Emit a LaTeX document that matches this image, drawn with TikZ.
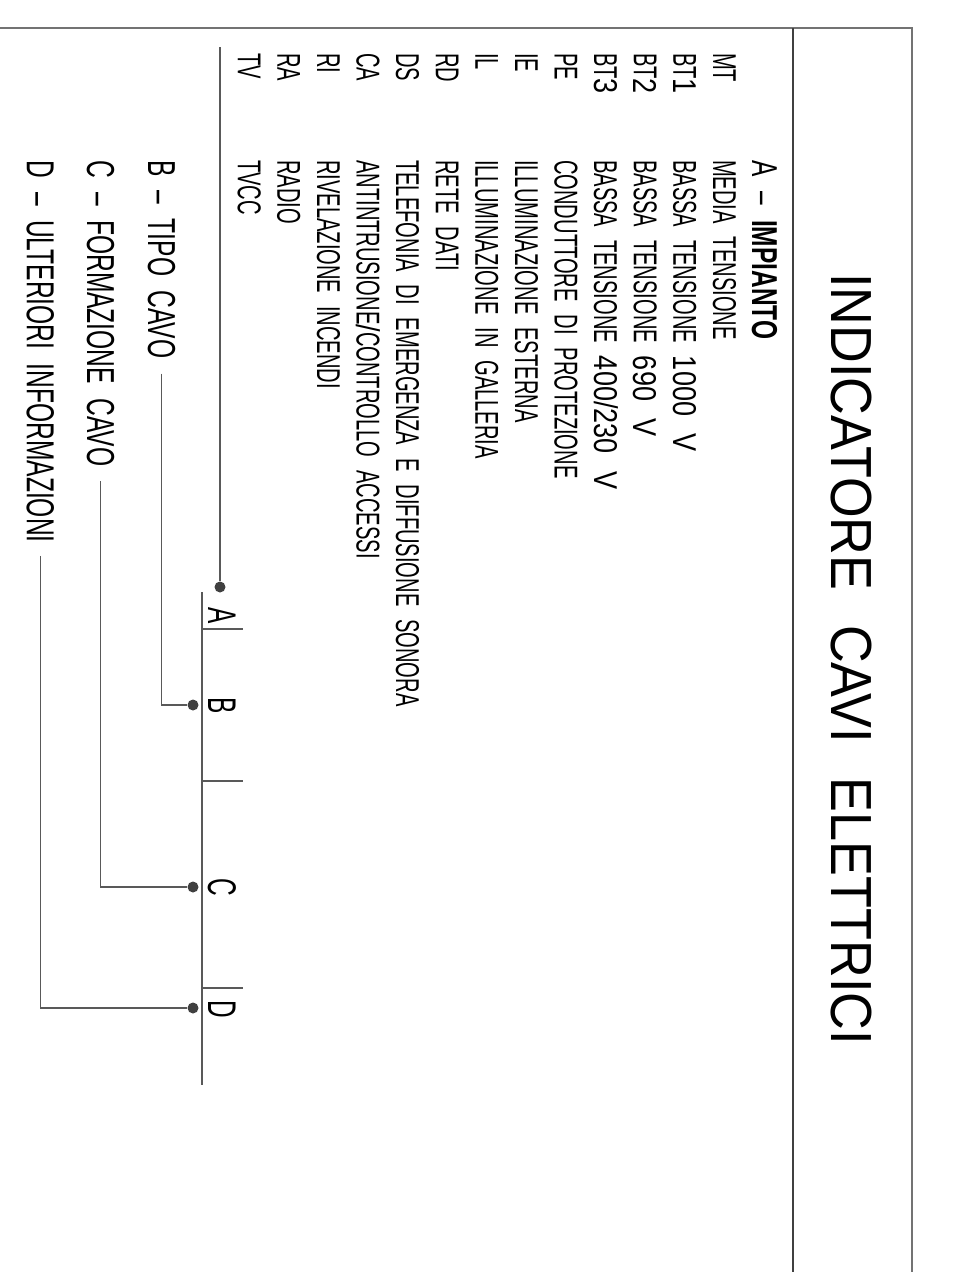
\documentclass[tikz,border=0pt]{standalone}
\usepackage{fontspec}
\setmainfont{Liberation Sans}
\newfontfamily\cadfont[FakeStretch=0.61,WordSpace=2.3]{Liberation Sans}
\newfontfamily\cifre[FakeStretch=0.82,WordSpace=2.3]{Liberation Sans}
\newfontfamily\headfont[FakeStretch=0.68,WordSpace=2.2]{Liberation Sans}
\newfontfamily\labelfont[FakeStretch=0.63,WordSpace=2.1]{Liberation Sans}
\newfontfamily\titlefont[FakeStretch=0.9,WordSpace=2.4]{Liberation Sans}
\usepackage{tikz}
\usetikzlibrary{positioning,calc}
\tikzstyle{voce} = [rotate=-90, anchor=base west, inner sep=0pt, font=\cadfont\fontsize{33}{40}\selectfont]
\tikzstyle{etichetta} = [voce, font=\labelfont\fontsize{39}{46}\selectfont]
\tikzstyle{campo} = [voce, font=\cadfont\fontsize{40}{46}\selectfont]
\tikzstyle{punto} = [circle, fill=black!75, inner sep=0pt, minimum size=11pt]
\tikzstyle{linea} = [draw=black!65, line width=1.2pt]

\begin{document}
\begin{tikzpicture}[x=1pt, y=-1pt]
    \useasboundingbox (0,0) rectangle (954,1272);
    % cornice
    \draw[linea, draw=black!55] (0,28) -- (912,28) -- (912,1272);
    \draw[linea, draw=black!75, line width=1.8pt] (793,28) -- (793,1272);
    \node[rotate=-90, anchor=base west, inner sep=0pt, font=\titlefont\fontsize{58}{64}\selectfont] (titolo) at (831,273) {INDICATORE CAVI ELETTRICI};

    % A - impianto
    \node[voce, font=\headfont\fontsize{36}{42}\selectfont] (intest) at (752,160) {A – \textbf{IMPIANTO}};
    \node[voce] (cMT) at (713,53) {MT};   \node[voce] (dMT) at (713,160) {MEDIA TENSIONE};
    \node[voce] (cBT1) at (673.4,53) {BT{\cifre 1}}; \node[voce] (dBT1) at (673.4,160) {BASSA TENSIONE {\cifre 1000 V}};
    \node[voce] (cBT2) at (633.8,53) {BT{\cifre 2}}; \node[voce] (dBT2) at (633.8,160) {BASSA TENSIONE {\cifre 690 V}};
    \node[voce] (cBT3) at (594.2,53) {BT{\cifre 3}}; \node[voce] (dBT3) at (594.2,160) {BASSA TENSIONE {\cifre 400/230 V}};
    \node[voce] (cPE) at (554.6,53) {PE};   \node[voce] (dPE) at (554.6,160) {CONDUTTORE DI PROTEZIONE};
    \node[voce] (cIE) at (515,53) {IE};     \node[voce] (dIE) at (515,160) {ILLUMINAZIONE ESTERNA};
    \node[voce] (cIL) at (475.4,53) {IL};   \node[voce] (dIL) at (475.4,160) {ILLUMINAZIONE IN GALLERIA};
    \node[voce] (cRD) at (435.8,53) {RD};   \node[voce] (dRD) at (435.8,160) {RETE DATI};
    \node[voce] (cDS) at (396.2,53) {DS};   \node[voce] (dDS) at (396.2,160) {TELEFONIA DI EMERGENZA E DIFFUSIONE SONORA};
    \node[voce] (cCA) at (356.6,53) {CA};   \node[voce] (dCA) at (356.6,160) {ANTINTRUSIONE{\cifre /}CONTROLLO ACCESSI};
    \node[voce] (cRI) at (317,53) {RI};     \node[voce] (dRI) at (317,160) {RIVELAZIONE INCENDI};
    \node[voce] (cRA) at (277.4,53) {RA};   \node[voce] (dRA) at (277.4,160) {RADIO};
    \node[voce] (cTV) at (237.8,53) {TV};   \node[voce] (dTV) at (237.8,160) {TVCC};

    % B, C, D
    \node[etichetta] (lblB) at (148,160) {B – TIPO CAVO};
    \node[etichetta] (lblC) at (87,160) {C – FORMAZIONE CAVO};
    \node[etichetta] (lblD) at (27,160) {D – ULTERIORI INFORMAZIONI};

    % barra dei campi
    \coordinate (barTop) at (202,592);
    \coordinate (barBot) at (202,1085);
    \draw[linea] (barTop) -- (barBot);
    \draw[linea] (202,629) -- (243,629);
    \draw[linea] (202,781) -- (243,781);
    \draw[linea] (202,988) -- (243,988);
    \node[campo] (fA) at (208,607) {A};
    \node[campo] (fB) at (208,697) {B};
    \node[campo] (fC) at (208,878) {C};
    \node[campo] (fD) at (208,1000) {D};

    \node[punto] (pA) at (220,587) {};
    \node[punto] (pB) at (193,705) {};
    \node[punto] (pC) at (193,887) {};
    \node[punto] (pD) at (193,1008) {};

    \coordinate (aTop) at (220,47);
    \draw[linea] (aTop) -- (pA);
    \draw[linea] ($(lblB.east)+(0,15)$) |- (pB);
    \draw[linea] ($(lblC.east)+(0,15)$) |- (pC);
    \draw[linea] ($(lblD.east)+(0,13)$) |- (pD);
\end{tikzpicture}
\end{document}
